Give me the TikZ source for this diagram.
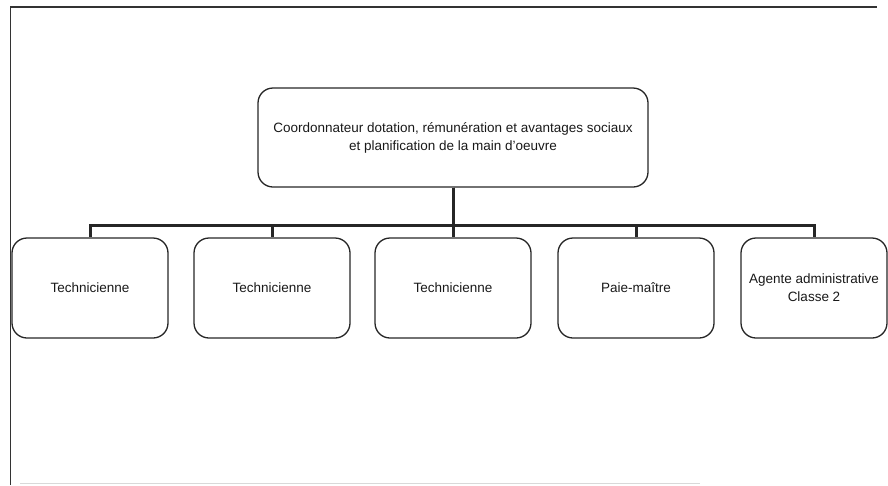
\documentclass[tikz,border=0pt]{standalone}
\usepackage{fontspec}
\setmainfont{Liberation Sans}
\usetikzlibrary{positioning}

\begin{document}
\begin{tikzpicture}[x=1pt,y=-1pt,
    post/.style={draw=black!85,line width=1.3pt,rounded corners=15pt,align=center,
      font=\fontsize{13.5}{18}\selectfont,text=black!90,minimum height=100pt,inner sep=0pt},
    link/.style={draw=black!85,line width=3pt}]
  \useasboundingbox (0,0) rectangle (888,485);
  % page frame
  \draw[black!80,line width=1.6pt] (10.5,485) -- (10.5,7) -- (877,7);
  \draw[black!15,line width=0.8pt] (20,483) -- (700,483);
  % boss
  \node[post,minimum width=390pt,minimum height=99pt] (coord) at (453,137.5)
    {Coordonnateur dotation, r\'emun\'eration et avantages sociaux\\et planification de la main d'oeuvre};
  % staff
  \node[post,minimum width=156pt] (tech1) at (90,288) {Technicienne};
  \node[post,minimum width=156pt] (tech2) at (272,288) {Technicienne};
  \node[post,minimum width=156pt] (tech3) at (453,288) {Technicienne};
  \node[post,minimum width=156pt] (paie) at (636,288) {Paie-ma\^itre};
  \node[post,minimum width=146pt] (agent) at (814,288) {Agente administrative\\Classe 2};
  \foreach \n in {tech1,tech2,tech3,paie,agent}
    \draw[link] (coord.south) -- ++(0,38) -| (\n.north);
\end{tikzpicture}
\end{document}
